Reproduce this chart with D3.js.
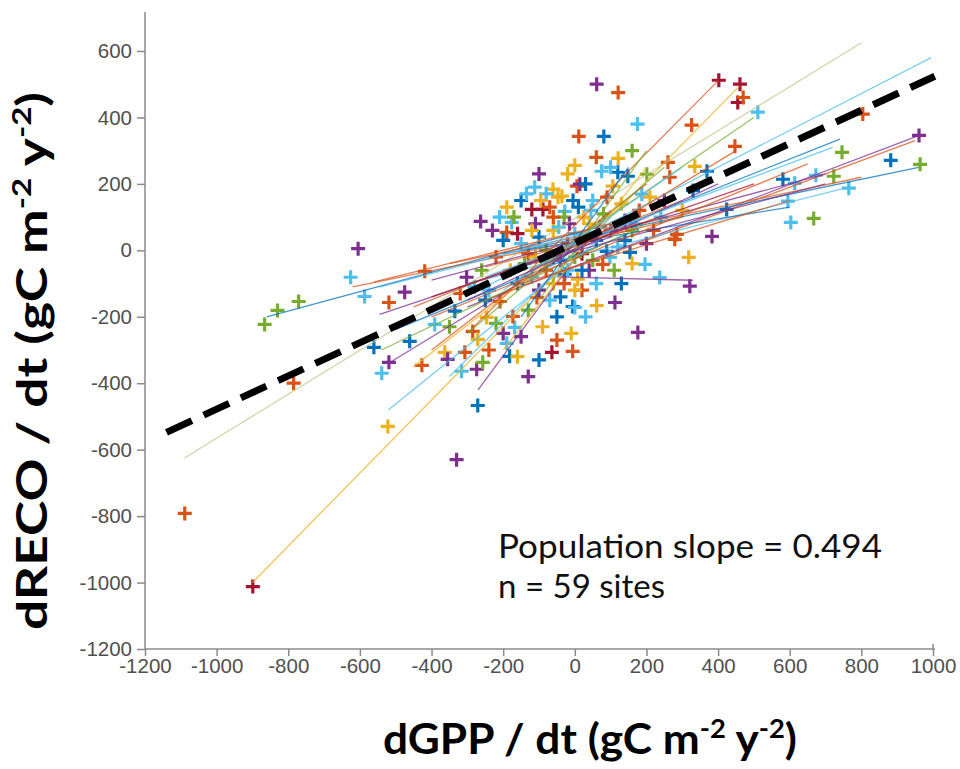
<!DOCTYPE html>
<html>
<head>
<meta charset="utf-8">
<script src="https://cdn.jsdelivr.net/npm/d3@7"></script>
<style>
  body { margin: 0; background: #fff; }
  svg { display: block; }
</style>
</head>
<body>
<div id="chart"></div>
<script>
// MATLAB-style site colours (last one is the pale olive of the long fit)
const siteColors = ["#0072BD", "#D95319", "#EDB120", "#7E2F8E", "#77AC30", "#4DBEEE", "#A2142F", "#C2C68E"];

const xTicks = [-1200, -1000, -800, -600, -400, -200, 0, 200, 400, 600, 800, 1000];
const yTicks = [-1200, -1000, -800, -600, -400, -200, 0, 200, 400, 600];

// annual anomalies per site: [dGPP/dt, dRECO/dt, colour index]
const sitePoints = [
  [-1089, -792, 1], [-899, -1012, 6], [-785, -400, 1],
  [-866, -223, 4], [-830, -181, 4], [-771, -154, 4],
  [-626, -81, 5], [-605, 5, 3], [-587, -139, 5], [-519, -157, 1],
  [-561, -292, 0], [-519, -337, 3], [-539, -370, 5], [-475, -126, 3],
  [-419, -63, 1], [-522, -530, 2], [-330, -630, 3], [-271, -467, 0],
  [-64, -307, 6], [-6, -304, 1], [176, -247, 3], [321, -108, 3],
  [318, -21, 2], [383, 42, 3], [279, 33, 1], [237, -82, 5], [196, -42, 5],
  [112, -157, 3], [61, -166, 2], [-6, -169, 0], [424, 123, 0],
  [61, 500, 3], [121, 475, 1], [175, 380, 5], [11, 343, 1], [81, 343, 0],
  [326, 377, 1], [402, 512, 6], [461, 500, 6], [455, 445, 6], [470, 460, 1],
  [447, 313, 1], [0, 256, 2], [121, 277, 2], [511, 416, 5], [804, 410, 1],
  [961, 346, 3], [964, 259, 4], [882, 271, 0], [746, 295, 4], [723, 223, 4],
  [765, 187, 5], [581, 214, 0], [614, 202, 5], [673, 226, 5], [595, 148, 5],
  [603, 84, 5], [667, 96, 4],
  [-263, 87, 3], [-120, 123, 6], [-89, 123, 6], [-112, 190, 5], [-176, 84, 5],
  [-190, 54, 1], [-302, -81, 3], [-461, -274, 0], [-391, -223, 5],
  [-335, -183, 0], [-427, -346, 1], [-363, -307, 2], [-355, -328, 3],
  [-307, -307, 1], [-274, -358, 3], [-316, -364, 5], [-257, -337, 4],
  [-182, -319, 0], [-168, -232, 5], [-173, -199, 1], [-246, -202, 2],
  [-285, -244, 1], [-271, -268, 2], [-106, -142, 1], [-209, -154, 1],
  [0, -172, 5], [6, 193, 1], [-61, 184, 2], [-47, 160, 2], [-28, 117, 5],
  [75, 238, 5], [120, 235, 0], [148, 223, 0], [14, 199, 3], [201, 229, 4],
  [260, 265, 1], [335, 253, 2], [265, 220, 1], [369, 238, 0], [285, 48, 1],
  [187, 169, 5], [-36, 163, 2], [106, 193, 2], [89, -3, 0], [98, -21, 5],
  [154, -6, 0], [78, -42, 1], [-28, -72, 0], [8, -87, 2],
  [-150, 20, 5], [-130, -10, 1], [-100, 40, 0], [-80, 0, 4], [-60, 60, 2],
  [-40, -30, 3], [-20, 20, 1], [0, 50, 5], [20, -10, 6], [40, 80, 2],
  [60, 30, 0], [80, 110, 4], [100, 60, 1], [120, 10, 5], [140, 90, 3],
  [-180, -60, 2], [-160, -100, 0], [-140, -40, 4], [-120, -80, 5],
  [-100, -120, 3], [-80, -60, 1], [-60, -100, 2], [-40, -140, 0],
  [-20, -60, 5], [0, -20, 4], [20, -120, 1], [40, -60, 3], [60, -100, 5],
  [-220, -20, 1], [-200, 30, 0], [-240, -120, 5], [-260, -60, 4],
  [-110, 80, 3], [-70, 130, 1], [-30, 100, 4], [10, 130, 0], [50, 150, 5],
  [90, 160, 1], [130, 140, 2], [160, 60, 4], [180, 120, 1], [-10, -250, 2],
  [30, -200, 5], [-50, -200, 0], [-90, -230, 2], [-130, -180, 4],
  [-150, -260, 3], [-120, 60, 2], [-170, 100, 4], [30, 200, 0], [-80, 170, 5],
  [-20, 230, 2], [210, 160, 2], [240, 100, 5], [200, 20, 3], [160, -40, 2],
  [130, -100, 0], [-220, -220, 4], [-190, -280, 5], [-240, -300, 1],
  [-160, -320, 2], [-130, -380, 3], [-100, -330, 0],
  [-150, 150, 0], [-135, 170, 5], [-95, 150, 2], [-60, 100, 1], [-45, 70, 5],
  [-15, 80, 3], [-5, 150, 0], [25, 100, 2], [45, 120, 5], [70, 70, 1],
  [-190, 130, 2], [-210, 100, 5], [-230, 60, 3], [-160, 50, 6], [-60, -20, 0],
  [-80, -30, 5], [-110, -20, 2], [-30, -100, 1], [-70, -150, 5], [0, -120, 2],
  [20, -60, 0], [50, -30, 4], [-250, -150, 0], [-280, -110, 5], [-320, -130, 1],
  [-350, -230, 4], [-200, -250, 3], [-50, -270, 1], [110, -60, 4], [140, 30, 0],
  [170, 80, 5], [220, 60, 1], [250, 150, 3], [300, 120, 2], [330, 180, 0],
  [100, 250, 5], [160, 300, 4], [-100, 230, 3], [60, 280, 1]
];

// per-site linear fits: [x start, y start, x end, y end, colour index]
const siteFits = [
  [-1090, -625, 800, 625, 7],
  [-900, -1000, 460, 495, 2],
  [-860, -200, 100, 80, 0],
  [-620, -110, 150, 60, 1],
  [-250, -110, 995, 580, 5],
  [-200, -70, 740, 335, 0],
  [-300, -170, 960, 345, 3],
  [-250, -150, 950, 330, 1],
  [-300, -100, 765, 190, 5],
  [-150, 0, 960, 250, 0],
  [-400, -90, 700, 230, 3],
  [-350, -40, 800, 220, 1],
  [-200, -10, 600, 130, 0],
  [-150, -80, 500, 400, 4],
  [-100, -60, 450, 300, 1],
  [-300, -250, 400, 510, 1],
  [-50, -80, 330, -90, 3],
  [-560, -95, 100, 80, 1],
  [-545, -111, 200, 100, 5],
  [-545, -193, 100, 40, 3],
  [-500, -238, 150, 50, 0],
  [-540, -300, 200, 80, 4],
  [-520, -340, 150, 100, 3],
  [-520, -480, 100, 60, 5],
  [-270, -420, 100, 120, 3],
  [-450, -350, 150, 150, 2],
  [-400, -300, 200, 200, 1],
  [-300, -250, 250, 250, 4],
  [-350, -380, 100, 100, 5],
  [-450, -170, 300, 150, 1],
  [-200, -300, 200, 250, 2],
  [-150, -200, 150, 250, 0],
  [-100, -150, 200, 300, 4],
  [-200, -120, 300, 250, 5],
  [-300, -150, 400, 200, 3],
  [-250, -50, 300, 100, 1],
  [-400, -140, 500, 200, 6],
  [-150, -100, 600, 150, 1],
  [-200, -60, 700, 200, 3],
  [-400, -200, 650, 260, 1],
  [-250, -80, 720, 310, 5]
];

// population fit (slope 0.494), end points
const populationFit = [[-1140, -548], [1005, 524]];
const annotation = ["Population slope = 0.494", "n = 59 sites"];
const annotationWidths = [384, 167];

const width = 960;
const height = 769;

const svg = d3.select('#chart')
  .append('svg')
    .attr('width', width)
    .attr('height', height);

const x = d3.scaleLinear()
    .domain([-1200, 1000])
    .range([145, 933]);

const y = d3.scaleLinear()
    .domain([-1200, 600])
    .range([649, 51]);

const axisColor = '#8a8a8a';
const plain = d => String(d);

// x axis
const xAxis = svg.append('g')
    .attr('transform', `translate(0,${y(-1200)})`)
    .call(d3.axisBottom(x).tickValues(xTicks).tickFormat(plain).tickSize(7).tickPadding(2).tickSizeOuter(0));

// y axis
const yAxis = svg.append('g')
    .attr('transform', `translate(${x(-1200)},0)`)
    .call(d3.axisLeft(y).tickValues(yTicks).tickFormat(plain).tickSize(8).tickPadding(5).tickSizeOuter(0));

[xAxis, yAxis].forEach(g => {
  g.attr('font-size', null).attr('font-family', null);
  g.select('.domain').remove();
  g.selectAll('line').attr('stroke', axisColor).attr('stroke-width', 1.5);
  g.selectAll('text')
    .attr('fill', '#505050')
    .style('font-family', '"Liberation Sans", Arial, sans-serif')
    .style('font-size', '20.5px');
});

// axis lines, y extends above the last tick
svg.append('line')
    .attr('x1', x(-1200)).attr('x2', x(-1200))
    .attr('y1', y(-1200)).attr('y2', 12)
    .attr('stroke', axisColor).attr('stroke-width', 1.5);
svg.append('line')
    .attr('x1', x(-1200)).attr('x2', x(1000) + 2)
    .attr('y1', y(-1200)).attr('y2', y(-1200))
    .attr('stroke', axisColor).attr('stroke-width', 1.5);
// small tick above the axis at the right end
svg.append('line')
    .attr('x1', x(1000)).attr('x2', x(1000))
    .attr('y1', y(-1200) - 5).attr('y2', y(-1200))
    .attr('stroke', axisColor).attr('stroke-width', 1.5);

// site markers
svg.append('g')
  .selectAll('path')
  .data(sitePoints)
  .join('path')
    .attr('transform', d => `translate(${x(d[0])},${y(d[1])})`)
    .attr('d', 'M-7,0H7M0,-7V7')
    .attr('stroke', d => siteColors[d[2]])
    .attr('stroke-width', 3.2)
    .attr('fill', 'none');

// site fits
svg.append('g')
  .selectAll('line')
  .data(siteFits)
  .join('line')
    .attr('x1', d => x(d[0]))
    .attr('y1', d => y(d[1]))
    .attr('x2', d => x(d[2]))
    .attr('y2', d => y(d[3]))
    .attr('stroke', d => siteColors[d[4]])
    .attr('stroke-width', 1.3)
    .attr('stroke-opacity', 0.75);

// population fit, dashed
svg.append('line')
    .attr('x1', x(populationFit[0][0]))
    .attr('y1', y(populationFit[0][1]))
    .attr('x2', x(populationFit[1][0]))
    .attr('y2', y(populationFit[1][1]))
    .attr('stroke', '#000')
    .attr('stroke-width', 7)
    .attr('stroke-dasharray', '28,13');

// annotation
svg.selectAll('.note')
  .data(annotation)
  .join('text')
    .attr('class', 'note')
    .attr('x', 498)
    .attr('y', (d, i) => 558 + i * 40)
    .attr('textLength', (d, i) => annotationWidths[i])
    .attr('lengthAdjust', 'spacingAndGlyphs')
    .style('font-family', 'Lato, "Open Sans", sans-serif')
    .style('font-size', '32px')
    .attr('fill', '#111')
    .text(d => d);

// axis titles with superscripts
const titleFont = 'Lato, "Open Sans", sans-serif';
function addTitle(sel, main) {
  sel.append('tspan').text(main + ' (gC m');
  sel.append('tspan').attr('dy', -16).style('font-size', '26px').text('-2');
  sel.append('tspan').attr('dy', 16).text(' y');
  sel.append('tspan').attr('dy', -16).style('font-size', '26px').text('-2');
  sel.append('tspan').attr('dy', 16).text(')');
}

const xTitle = svg.append('text')
    .attr('x', 383)
    .attr('y', 754)
    .attr('textLength', 414)
    .attr('lengthAdjust', 'spacingAndGlyphs')
    .style('font-family', titleFont)
    .style('font-size', '42px')
    .style('font-weight', 'bold')
    .attr('fill', '#000');
addTitle(xTitle, 'dGPP / dt');

const yTitle = svg.append('text')
    .attr('transform', 'translate(47,630) rotate(-90)')
    .attr('textLength', 538)
    .attr('lengthAdjust', 'spacingAndGlyphs')
    .style('font-family', titleFont)
    .style('font-size', '42px')
    .style('font-weight', 'bold')
    .attr('fill', '#000');
addTitle(yTitle, 'dRECO / dt');
</script>
</body>
</html>
